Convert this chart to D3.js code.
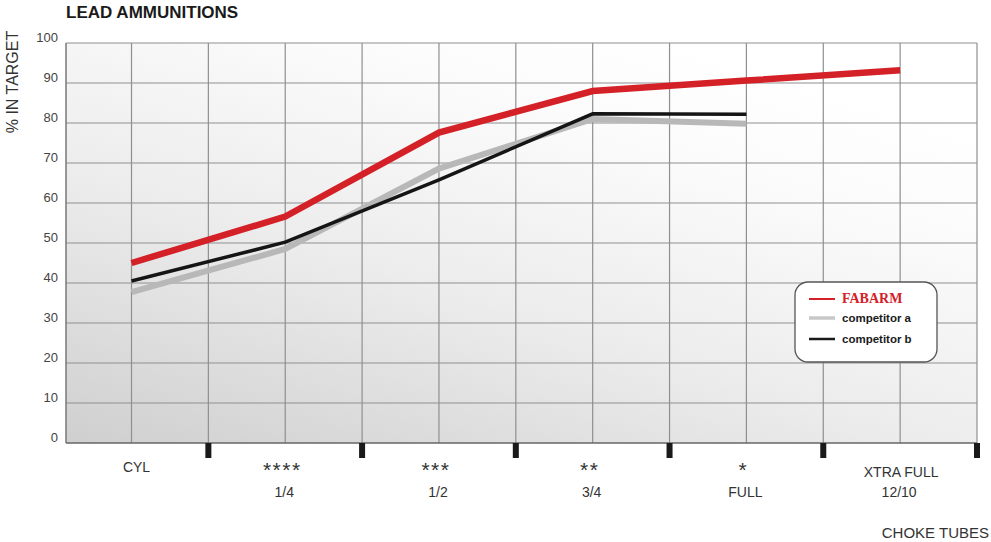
<!DOCTYPE html>
<html>
<head>
<meta charset="utf-8">
<script src="https://cdn.jsdelivr.net/npm/d3@7/dist/d3.min.js"></script>
<style>
  html, body { margin: 0; padding: 0; background: #fff; }
  svg { display: block; }
</style>
</head>
<body>
<svg id="chart" width="991" height="542"></svg>
<script>
// ---- data ----
const stars = ["", "****", "***", "**", "*", ""];
const chokes = ["CYL", "1/4", "1/2", "3/4", "FULL", "12/10"];
const extraLabel = "XTRA FULL";
const fabarm = [45, 56.6, 77.6, 88, 90.6, 93.2];
const competitorA = [37.7, 48.5, 68.6, 81, 79.8];
const competitorB = [40.5, 50.2, 65.8, 82.3, 82.2];
const yTicks = [0, 10, 20, 30, 40, 50, 60, 70, 80, 90, 100];
const seriesNames = ["FABARM", "competitor a", "competitor b"];

const svg = d3.select("#chart");
const font = "'Liberation Sans', Arial, sans-serif";

const plotLeft = 66, plotRight = 977, plotTop = 43, plotBottom = 443;
const x = d3.scaleLinear().domain([0, 5.5]).range([131.5, 977]);
const y = d3.scaleLinear().domain([0, 100]).range([plotBottom, plotTop]);

// background gradient
const defs = svg.append("defs");
const grad = defs.append("linearGradient").attr("id", "bg")
  .attr("x1", "0").attr("y1", "1").attr("x2", "0.7").attr("y2", "0");
grad.append("stop").attr("offset", "0").attr("stop-color", "#cfcfcf");
grad.append("stop").attr("offset", "0.45").attr("stop-color", "#ececec");
grad.append("stop").attr("offset", "0.8").attr("stop-color", "#fbfbfb");
grad.append("stop").attr("offset", "1").attr("stop-color", "#ffffff");

svg.append("rect").attr("x", plotLeft).attr("y", plotTop)
  .attr("width", plotRight - plotLeft).attr("height", plotBottom - plotTop)
  .attr("fill", "url(#bg)");

// horizontal gridlines
svg.append("g").selectAll("line").data(yTicks.filter(d => d > 0)).join("line")
  .attr("x1", plotLeft).attr("x2", plotRight)
  .attr("y1", d => y(d)).attr("y2", d => y(d))
  .attr("stroke", "#8f8f8f").attr("stroke-width", 1.2);

// vertical gridlines (every half category)
const vgrid = d3.range(0, 5.51, 0.5);
svg.append("g").selectAll("line").data(vgrid).join("line")
  .attr("x1", d => x(d)).attr("x2", d => x(d))
  .attr("y1", plotTop).attr("y2", plotBottom)
  .attr("stroke", "#8f8f8f").attr("stroke-width", 1.2);

// left & bottom axis border
svg.append("line").attr("x1", plotLeft).attr("x2", plotLeft).attr("y1", plotTop).attr("y2", plotBottom)
  .attr("stroke", "#777").attr("stroke-width", 1.5);
svg.append("line").attr("x1", plotLeft).attr("x2", plotRight).attr("y1", plotBottom).attr("y2", plotBottom)
  .attr("stroke", "#666").attr("stroke-width", 1.5);

// y axis labels
const yAxis = d3.axisLeft(y).tickValues(yTicks).tickSize(0).tickPadding(8);
const ya = svg.append("g").attr("transform", `translate(${plotLeft},0)`).call(yAxis);
ya.select(".domain").remove();
ya.selectAll("text").attr("font-family", font).attr("font-size", 13)
  .attr("fill", "#444").attr("dy", "-0.1em");

// black category boundary ticks
const bounds = d3.range(0.5, 5.51, 1);
svg.append("g").selectAll("rect").data(bounds).join("rect")
  .attr("x", d => x(d) - 3).attr("y", plotBottom).attr("width", 6).attr("height", 15)
  .attr("fill", "#1a1a1a");

// x labels
const xl = svg.append("g").attr("font-family", font)
  .attr("fill", "#333").attr("text-anchor", "middle");
xl.selectAll("text.star").data(stars).join("text").attr("class", "star")
  .attr("x", (d, i) => x(i) - 3)
  .attr("y", 477)
  .attr("font-size", 21).attr("letter-spacing", 1.5)
  .text(d => d);
xl.append("text").attr("x", x(5) + 1).attr("y", 477).attr("font-size", 14).text(extraLabel);
xl.selectAll("text.choke").data(chokes).join("text").attr("class", "choke")
  .attr("x", (d, i) => x(i) + (i === 0 ? 5 : -1))
  .attr("y", (d, i) => i === 0 ? 472 : 497)
  .attr("font-size", 14)
  .text(d => d);

// axis titles
svg.append("text").attr("x", 989).attr("y", 538).attr("text-anchor", "end")
  .attr("font-family", font).attr("font-size", 15).attr("fill", "#333").text("CHOKE TUBES");
svg.append("text").attr("transform", "translate(18,82) rotate(-90)").attr("text-anchor", "middle")
  .attr("font-family", font).attr("font-size", 16).attr("fill", "#333").text("% IN TARGET");
svg.append("text").attr("x", 66).attr("y", 18)
  .attr("font-family", font).attr("font-size", 17).attr("font-weight", "bold")
  .attr("fill", "#1a1a1a").text("LEAD AMMUNITIONS");

// lines
const line = d3.line().x((d, i) => x(i)).y(d => y(d));
svg.append("path").datum(competitorA).attr("d", line).attr("fill", "none")
  .attr("stroke", "#b8b8b8").attr("stroke-width", 6);
svg.append("path").datum(competitorB).attr("d", line).attr("fill", "none")
  .attr("stroke", "#151515").attr("stroke-width", 3.5);
svg.append("path").datum(fabarm).attr("d", line).attr("fill", "none")
  .attr("stroke", "#d42027").attr("stroke-width", 6.5);

// legend
const lg = svg.append("g");
lg.append("rect").attr("x", 795).attr("y", 282).attr("width", 142).attr("height", 80)
  .attr("rx", 13).attr("fill", "#fff").attr("stroke", "#555").attr("stroke-width", 1.3);
const legendItems = [
  { name: seriesNames[0], color: "#d42027", w: 2, y: 299, fs: 14, ff: "'Liberation Serif', 'Times New Roman', serif", tc: "#d42027" },
  { name: seriesNames[1], color: "#c8c8c8", w: 3.5, y: 318, fs: 11.5, ff: "'Liberation Sans', Arial, sans-serif", tc: "#1a1a1a" },
  { name: seriesNames[2], color: "#1a1a1a", w: 2.5, y: 339, fs: 11.5, ff: "'Liberation Sans', Arial, sans-serif", tc: "#1a1a1a" }
];
legendItems.forEach(it => {
  lg.append("line").attr("x1", 809).attr("x2", 835).attr("y1", it.y).attr("y2", it.y)
    .attr("stroke", it.color).attr("stroke-width", it.w);
  lg.append("text").attr("x", 842).attr("y", it.y + 4).attr("font-family", it.ff)
    .attr("font-size", it.fs).attr("font-weight", "bold").attr("fill", it.tc).text(it.name);
});
</script>
</body>
</html>
